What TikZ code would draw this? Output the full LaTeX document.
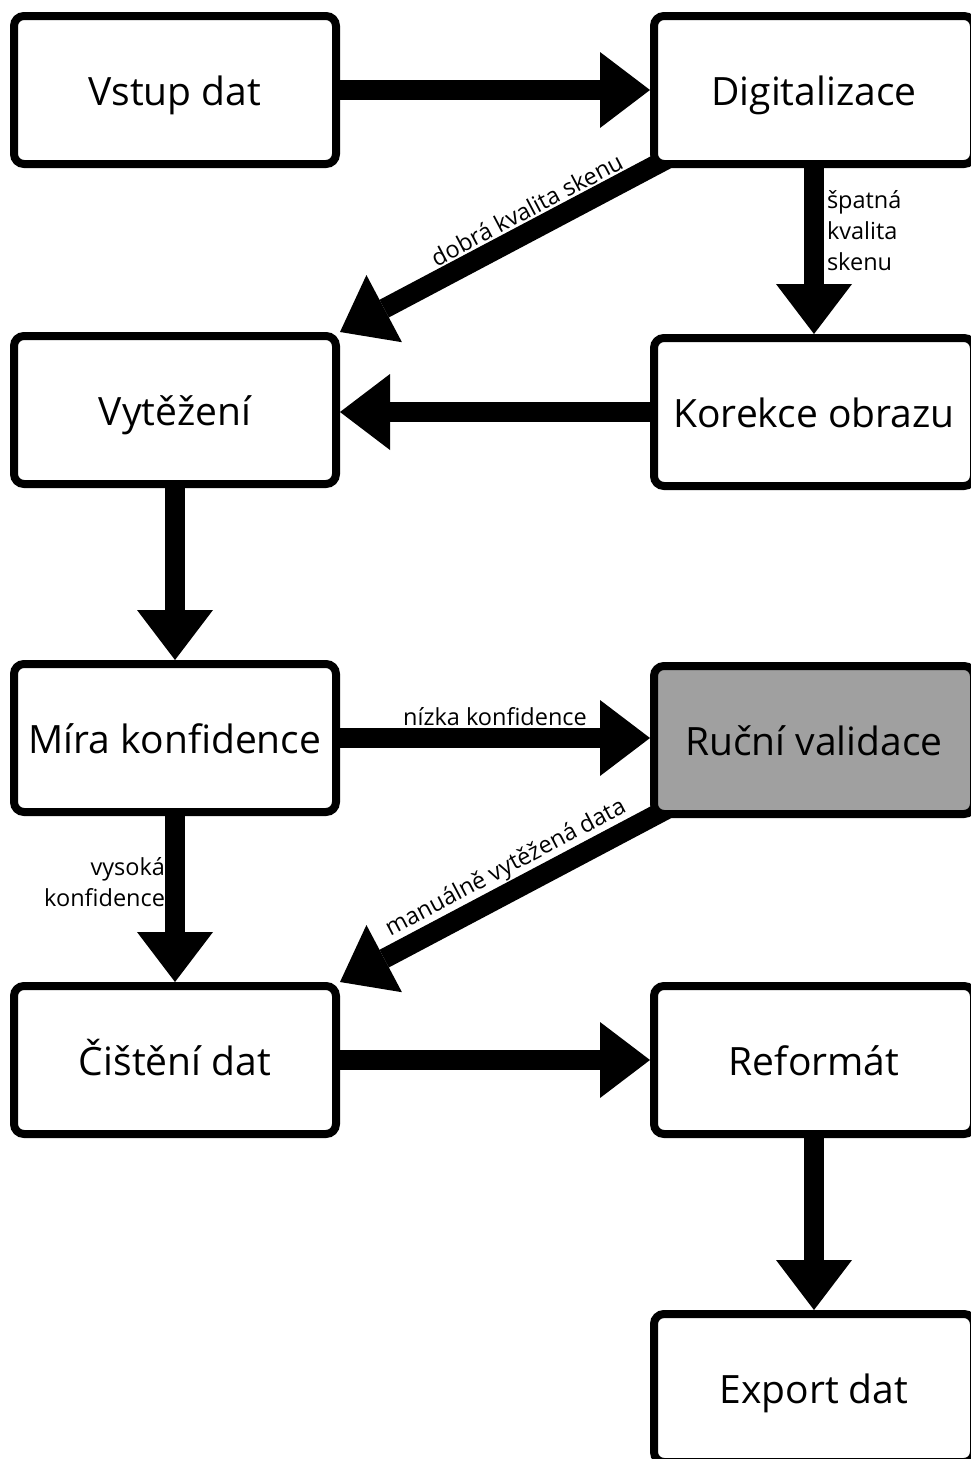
\documentclass[tikz,border=0pt]{standalone}
\usepackage{fontspec}
\setmainfont{Open Sans}
\usetikzlibrary{arrows.meta,backgrounds}
\definecolor{valgray}{HTML}{A0A0A0}
\begin{document}
\begin{tikzpicture}[x=1pt,y=-1pt,
  box/.style={draw, line width=8pt, rounded corners=10pt, fill=white,
    minimum height=148pt, inner sep=0pt, text height=30pt, text depth=0pt,
    font=\fontsize{39}{46}\selectfont},
  lbox/.style={box, minimum width=322pt},
  rbox/.style={box, minimum width=320pt},
  flow/.style={line width=20pt, -{Triangle[length=50pt,width=76pt,line width=0pt]}},
  lbl/.style={font=\fontsize{23.5}{31}\selectfont, inner sep=0pt, outer sep=0pt}]
\useasboundingbox (0,0) rectangle (970,1459);
\node[lbox] (vstup) at (175,90) {Vstup dat};
\node[rbox] (digit) at (814,90) {Digitalizace};
\node[lbox] (vytez) at (175,410) {Vytěžení};
\node[rbox] (korek) at (814,412) {Korekce obrazu};
\node[lbox] (mira) at (175,738) {Míra konfidence};
\node[rbox, fill=valgray] (rucni) at (814,740) {Ruční validace};
\node[lbox] (cist) at (175,1060) {Čištění dat};
\node[rbox] (refor) at (814,1060) {Reformát};
\node[rbox] (export) at (814,1388) {Export dat};
\begin{scope}[on background layer]
\draw[flow] (vstup.east) -- (digit.west);
\draw[flow] (digit.south) -- node[lbl, pos=0.38, right=13pt, align=left] {špatná\\kvalita\\skenu} (korek.north);
\draw[flow, shorten <=-20pt] (digit.south west) -- node[lbl, pos=0.366, sloped, above=12pt] {dobrá kvalita skenu} (vytez.north east);
\draw[flow] (korek.west) -- (korek.west -| vytez.east);
\draw[flow] (vytez.south) -- (mira.north);
\draw[flow] (mira.east) -- node[lbl, midway, above=12pt] {nízka konfidence} (mira.east -| rucni.west);
\draw[flow, shorten <=-20pt] (rucni.south west) -- node[lbl, pos=0.43, sloped, above=11pt] {manuálně vytěžená data} (cist.north east);
\draw[flow] (mira.south) -- node[lbl, pos=0.40, left=10pt, align=right] {vysoká\\konfidence} (cist.north);
\draw[flow] (cist.east) -- (refor.west);
\draw[flow] (refor.south) -- (export.north);
\end{scope}
\end{tikzpicture}
\end{document}
